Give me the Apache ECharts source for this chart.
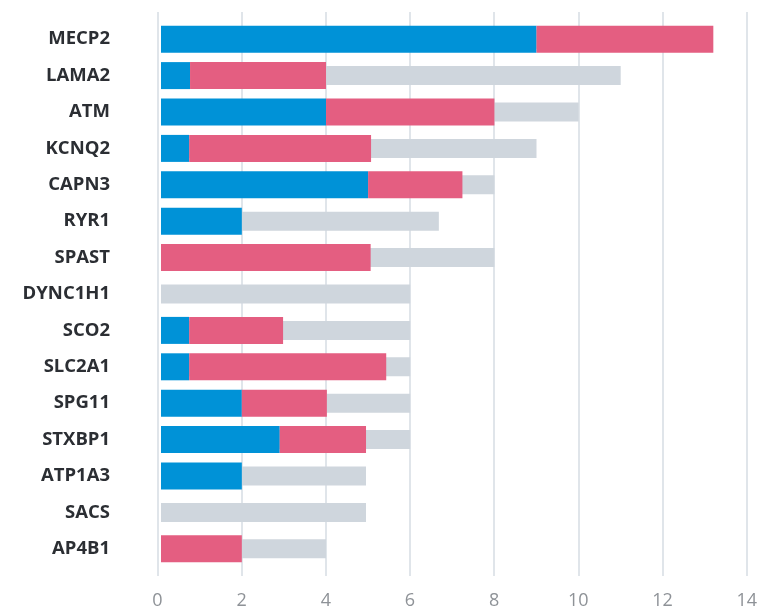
<!DOCTYPE html>
<html lang="en">
<head>
    <meta charset="UTF-8">
    <title>Genes</title>
    <script src="https://cdn.jsdelivr.net/npm/echarts@6/dist/echarts.min.js"></script>
    <style>
        html, body { margin: 0; padding: 0; background: #fff; }
        #paint { width: 760px; height: 610px; }
    </style>
</head>
<body>
<div id="paint"></div>
<script type="text/javascript">
    var genes = ['MECP2', 'LAMA2', 'ATM', 'KCNQ2', 'CAPN3', 'RYR1', 'SPAST', 'DYNC1H1',
                 'SCO2', 'SLC2A1', 'SPG11', 'STXBP1', 'ATP1A3', 'SACS', 'AP4B1'];
    // blue part, pink part (stacked on blue), grey total behind
    var blueVals  = [9, 0.77, 4, 0.75, 5, 2, 0, 0, 0.75, 0.75, 2, 2.9, 2, 0, 0];
    var pinkVals  = [4.2, 3.23, 4, 4.32, 2.24, 0, 5.06, 0, 2.23, 4.68, 2.02, 2.05, 0, 0, 2];
    var totalVals = [13, 11, 10, 9, 8, 6.68, 8, 6, 6, 6, 6, 6, 4.95, 4.95, 4];
    var xTicks = [0, 2, 4, 6, 8, 10, 12, 14];

    var myChart = echarts.init(document.getElementById('paint'));

    var option = {
        animation: false,
        grid: [
            // bars
            { left: 161, width: 586, top: 21, height: 546 },
            // grid lines + tick labels
            { left: 157.5, width: 589.5, top: 12, height: 565 }
        ],
        xAxis: [{
            gridIndex: 0, type: 'value', min: 0.08, max: 14,
            show: false, splitLine: { show: false }
        }, {
            gridIndex: 1, type: 'value', min: xTicks[0], max: xTicks[xTicks.length - 1], interval: 2,
            axisLine: { show: false },
            axisTick: { show: false },
            splitLine: { show: true, lineStyle: { color: '#d6dce3', width: 1.5 } },
            axisLabel: {
                margin: 16, color: '#8e9297', fontSize: 18,
                fontFamily: 'Open Sans', fontWeight: 'normal'
            }
        }],
        yAxis: [{
            gridIndex: 0, type: 'category', data: genes, inverse: true,
            axisLine: { show: false },
            axisTick: { show: false },
            axisLabel: {
                margin: 51, color: '#2b2e33', fontSize: 18.5,
                fontFamily: 'Open Sans', fontWeight: 'bold',
                padding: [4, 0, 0, 0]
            }
        }, {
            gridIndex: 0, type: 'category', data: genes, inverse: true, show: false
        }, {
            gridIndex: 1, type: 'value', show: false
        }],
        series: [{
            name: 'total', type: 'bar', xAxisIndex: 0, yAxisIndex: 1,
            data: totalVals, barWidth: 19,
            itemStyle: { color: '#cfd6dd' }
        }, {
            name: 'blue', type: 'bar', xAxisIndex: 0, yAxisIndex: 0, stack: 'a',
            data: blueVals, barWidth: 27,
            itemStyle: { color: '#0092d7' }
        }, {
            name: 'pink', type: 'bar', xAxisIndex: 0, yAxisIndex: 0, stack: 'a',
            data: pinkVals, barWidth: 27,
            itemStyle: { color: '#e45e81' }
        }]
    };
    myChart.setOption(option);
</script>
</body>
</html>
